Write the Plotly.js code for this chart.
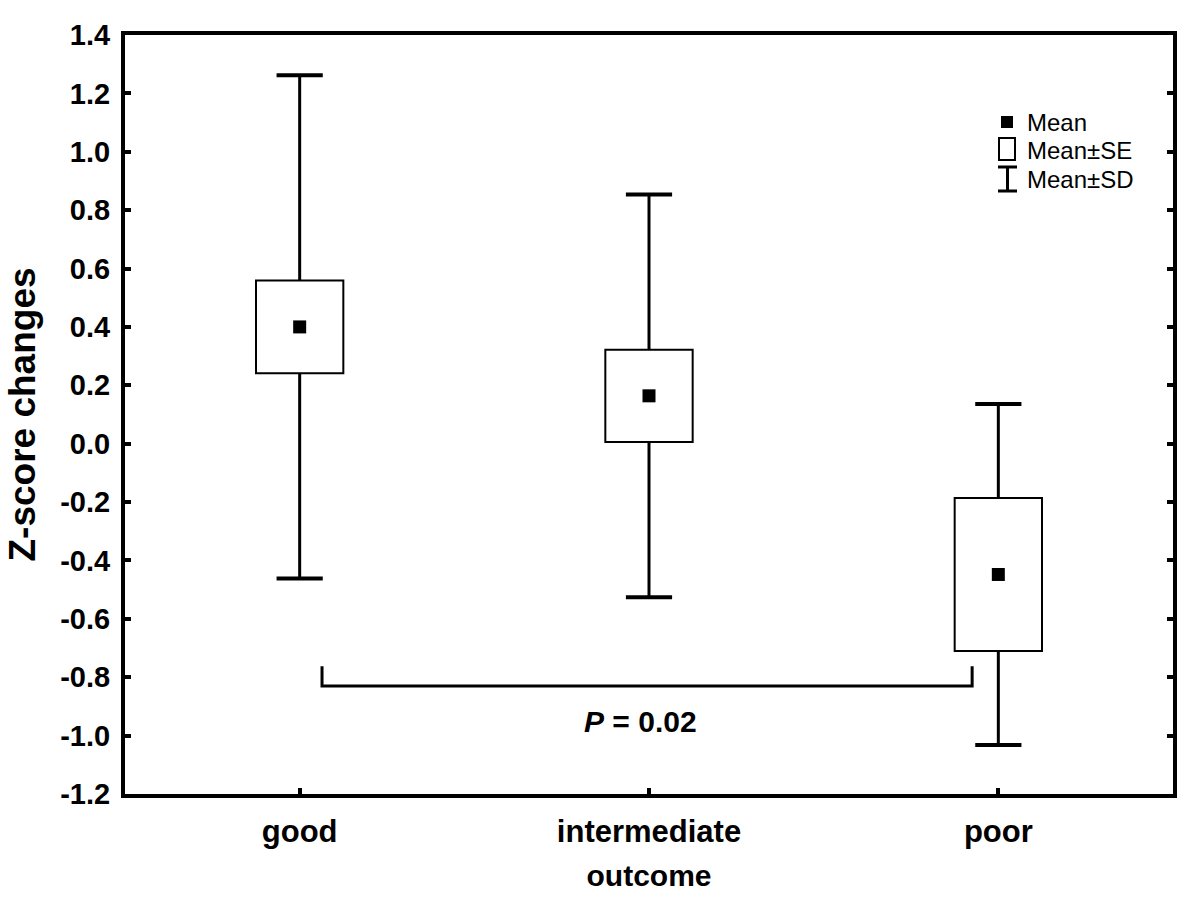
<!DOCTYPE html>
<html>
<head>
<meta charset="utf-8">
<script src="https://cdn.plot.ly/plotly-3.0.1.min.js"></script>
<style>body{margin:0;background:#fff}#chart{width:1200px;height:903px}</style>
</head>
<body>
<div id="chart"></div>
<script>
// values
const categories = ['good', 'intermediate', 'poor'];
const means = [0.40, 0.164, -0.448];
const se = [0.159, 0.158, 0.262];
const sd = [0.862, 0.690, 0.584];
const yTickVals = [-1.2, -1.0, -0.8, -0.6, -0.4, -0.2, 0.0, 0.2, 0.4, 0.6, 0.8, 1.0, 1.2, 1.4];
const bracketX = [0.064, 0.064, 1.925, 1.925];
const bracketY = [-0.762, -0.83, -0.83, -0.762];
const pLabel = '<i>P</i> = 0.02';
const legendLabels = ['Mean', 'Mean±SE', 'Mean±SD'];

const xs = categories.map((c, i) => i);
const black = '#000';

// plot area in pixels, used to place the hand drawn legend
const L = 125, R = 27, T = 35, B = 109, W = 1200, H = 903;
const px = x => (x - L) / (W - L - R);
const py = y => (H - B - y) / (H - T - B);

// whisker segments from box edge to mean +- sd
let wx = [], wy = [];
xs.forEach(i => {
    wx.push(i, i, null, i, i, null);
    wy.push(means[i] + se[i], means[i] + sd[i], null, means[i] - se[i], means[i] - sd[i], null);
});
let capX = [], capY = [];
xs.forEach(i => {
    capX.push(i, i);
    capY.push(means[i] + sd[i], means[i] - sd[i]);
});

const traces = [
    {
        type: 'bar', x: xs, y: se.map(s => 2 * s), base: means.map((m, i) => m - se[i]),
        width: 0.25, marker: {color: '#fff', line: {color: black, width: 2}}, hoverinfo: 'skip'
    },
    {type: 'scatter', mode: 'lines', x: wx, y: wy, line: {color: black, width: 3}, hoverinfo: 'skip'},
    {
        type: 'scatter', mode: 'markers', x: capX, y: capY,
        marker: {symbol: 'line-ew', size: 33, line: {color: black, width: 4}}, hoverinfo: 'skip'
    },
    {type: 'scatter', mode: 'markers', x: xs, y: means, marker: {symbol: 'square', size: 13, color: black}},
    {type: 'scatter', mode: 'lines', x: bracketX, y: bracketY, line: {color: black, width: 3}, hoverinfo: 'skip'}
];

const legendY = [122, 150, 179];
const shapes = [
    {type: 'rect', xref: 'paper', yref: 'paper', x0: px(1001), x1: px(1013), y0: py(116), y1: py(128),
        fillcolor: black, line: {width: 0}},
    {type: 'rect', xref: 'paper', yref: 'paper', x0: px(999), x1: px(1015), y0: py(138), y1: py(160),
        fillcolor: '#fff', line: {color: black, width: 2}},
    {type: 'path', xref: 'paper', yref: 'paper',
        path: 'M' + px(998) + ',' + py(167) + 'L' + px(1017) + ',' + py(167) +
              'M' + px(1007.5) + ',' + py(167) + 'L' + px(1007.5) + ',' + py(191) +
              'M' + px(998) + ',' + py(191) + 'L' + px(1017) + ',' + py(191),
        line: {color: black, width: 3}}
];

const annotations = legendLabels.map((t, i) => ({
    text: t, xref: 'paper', yref: 'paper', x: px(1025), y: py(legendY[i]),
    xanchor: 'left', yanchor: 'middle', showarrow: false,
    font: {family: 'Liberation Sans, Arial', size: 24, color: black}
}));
annotations.push({
    text: pLabel, x: 0.977, y: -0.953, xref: 'x', yref: 'y', showarrow: false,
    font: {family: 'Liberation Sans, Arial', size: 30, color: black, weight: 'bold'}
});

const layout = {
    width: W, height: H,
    margin: {l: L, r: R, t: T, b: B},
    paper_bgcolor: '#fff', plot_bgcolor: '#fff',
    showlegend: false, bargap: 0,
    xaxis: {
        range: [-0.5, 2.5], tickvals: xs, ticktext: categories,
        ticks: 'inside', ticklen: 6, tickwidth: 4, tickcolor: black,
        showline: true, linewidth: 4, linecolor: black, mirror: true,
        showgrid: false, zeroline: false, ticklabelstandoff: 7,
        tickfont: {family: 'Liberation Sans, Arial', size: 31, color: black, weight: 'bold'},
        title: {text: 'outcome', standoff: 18,
            font: {family: 'Liberation Sans, Arial', size: 30, color: black, weight: 'bold'}}
    },
    yaxis: {
        range: [-1.2, 1.4], tickvals: yTickVals, ticktext: yTickVals.map(v => v.toFixed(1)),
        ticks: 'inside', ticklen: 6, tickwidth: 4, tickcolor: black,
        showline: true, linewidth: 4, linecolor: black, mirror: 'ticks',
        showgrid: false, zeroline: false, ticklabelstandoff: 5,
        tickfont: {family: 'Liberation Sans, Arial', size: 29, color: black, weight: 'bold'},
        title: {text: 'Z-score changes', standoff: 14,
            font: {family: 'Liberation Sans, Arial', size: 37, color: black, weight: 'bold'}}
    },
    shapes: shapes,
    annotations: annotations
};

Plotly.newPlot('chart', traces, layout, {displayModeBar: false, staticPlot: true});
</script>
</body>
</html>
